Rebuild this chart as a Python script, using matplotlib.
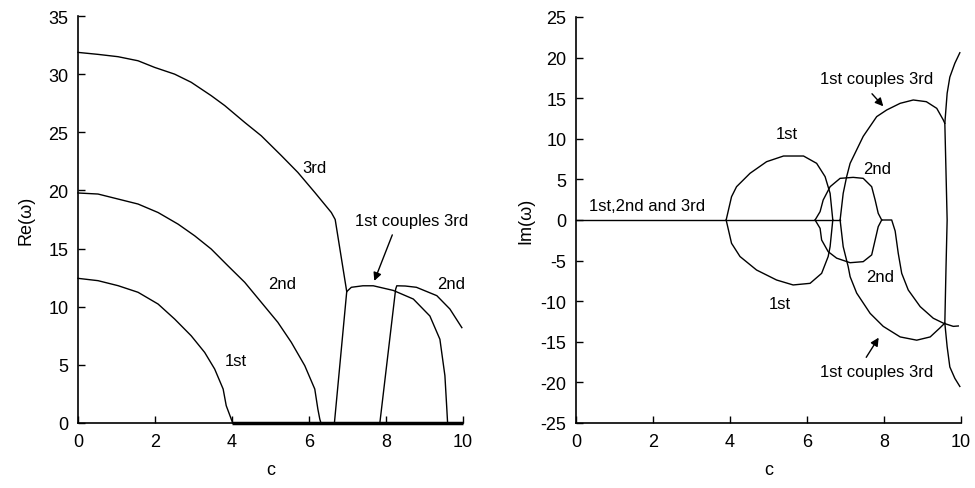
import matplotlib
matplotlib.use("Agg")
import matplotlib.pyplot as plt

FONT = ['Liberation Sans Narrow', 'Liberation Sans', 'DejaVu Sans']
plt.rcParams['font.family'] = FONT
plt.rcParams['axes.unicode_minus'] = False

# ---------------- Left panel: Re(omega) ----------------
re1_c = [0, 0.52, 1.04, 1.56, 2.08, 2.51, 2.94, 3.29, 3.55, 3.77, 3.85, 3.98, 4.02]
re1_v = [12.44, 12.24, 11.81, 11.24, 10.23, 8.94, 7.5, 6.07, 4.64, 2.92, 1.49, 0.34, 0]

re2_c = [0, 0.52, 1.04, 1.56, 2.08, 2.6, 3.03, 3.46, 3.9, 4.33, 4.76, 5.19, 5.54, 5.89, 6.15, 6.23, 6.28, 6.31]
re2_v = [19.78, 19.69, 19.26, 18.83, 18.1, 17.1, 16.1, 14.96, 13.5, 12.1, 10.38, 8.66, 6.94, 4.93, 2.92, 1.2, 0.34, 0]

re3_c = [0, 0.52, 1.04, 1.56, 1.99, 2.51, 2.94, 3.46, 3.81, 4.33, 4.76, 5.28, 5.71, 6.15, 6.58, 6.68, 6.98]
re3_v = [31.87, 31.7, 31.5, 31.15, 30.58, 30.0, 29.3, 28.15, 27.3, 25.85, 24.7, 23.0, 21.55, 19.83, 18.1, 17.5, 11.3]

re_coup_c = [6.66, 6.98, 7.1, 7.4, 7.67, 8.19, 8.71, 9.14, 9.4, 9.53, 9.58, 9.6]
re_coup_v = [0, 11.3, 11.67, 11.8, 11.8, 11.4, 10.66, 9.2, 7.2, 4.07, 1.2, 0]

re2b_c = [7.84, 8.25, 8.28, 8.5, 8.79, 9.32, 9.66, 9.97]
re2b_v = [0, 11.5, 11.8, 11.78, 11.67, 10.95, 9.8, 8.2]

re_zero_c = [4.0, 10.0]
re_zero_v = [0, 0]

# ---------------- Right panel: Im(omega) ----------------
im_zero_c = [0, 6.86]
im_zero_v = [0, 0]

im1u_c = [3.9, 4.04, 4.17, 4.52, 4.95, 5.39, 5.91, 6.25, 6.47, 6.6, 6.67]
im1u_v = [0, 2.87, 4.1, 5.75, 7.18, 7.88, 7.88, 6.98, 5.34, 3.28, 0]
im1l_c = [3.9, 4.04, 4.26, 4.69, 5.21, 5.64, 6.08, 6.38, 6.55, 6.6, 6.67]
im1l_v = [0, -2.87, -4.5, -6.16, -7.39, -8.0, -7.8, -6.57, -4.5, -3.28, 0]

im2u_c = [6.21, 6.34, 6.42, 6.6, 6.86, 7.2, 7.46, 7.68, 7.77, 7.85, 7.94]
im2u_v = [0, 1.03, 2.46, 4.1, 5.13, 5.25, 5.13, 4.1, 2.46, 0.82, 0]
im2l_c = [6.21, 6.34, 6.38, 6.55, 6.77, 7.12, 7.46, 7.68, 7.77, 7.85, 7.94]
im2l_v = [0, -1.03, -2.46, -3.9, -4.7, -5.26, -5.13, -4.3, -2.46, -0.82, 0]

im2b_c = [7.94, 8.2, 8.29, 8.37, 8.46, 8.63, 8.94, 9.28, 9.54, 9.8, 9.93]
im2b_v = [0, 0, -1.36, -4.1, -6.57, -8.62, -10.67, -12.1, -12.7, -13.1, -13.05]

imcu_c = [6.86, 6.94, 7.03, 7.12, 7.46, 7.81, 8.07, 8.42, 8.76, 9.1, 9.37, 9.54, 9.58]
imcu_v = [0, 3.28, 5.34, 6.98, 10.3, 12.73, 13.55, 14.37, 14.78, 14.57, 13.75, 12.32, 11.9]
imcl_c = [6.86, 6.94, 7.07, 7.12, 7.29, 7.64, 7.98, 8.42, 8.85, 9.2, 9.45, 9.58]
imcl_v = [0, -3.28, -5.75, -6.98, -9.0, -11.5, -13.1, -14.4, -14.8, -14.4, -13.3, -12.7]

imv_c = [9.97, 9.84, 9.71, 9.64, 9.58, 9.61, 9.64, 9.61, 9.58, 9.64, 9.71, 9.84, 9.97]
imv_v = [20.6, 19.3, 17.6, 15.6, 11.9, 6.0, 0, -6.0, -12.7, -15.6, -18.1, -19.5, -20.5]

FS = 13
FSA = 12
LW = 1.0

fig = plt.figure(figsize=(9.75, 4.89), dpi=100)
axL = fig.add_axes([78/975, 1-424/489, 385/975, 407/489])
axR = fig.add_axes([576/975, 1-424/489, 385/975, 406/489])

def style(ax):
    for s in ('top', 'right'):
        ax.spines[s].set_visible(False)
    for s in ('left', 'bottom'):
        ax.spines[s].set_linewidth(1.2)
        ax.spines[s].set_color('black')
    ax.tick_params(direction='in', length=5, width=1, labelsize=FS, colors='black', pad=7)
    ax.set_xlim(0, 10)
    ax.set_xticks([0, 2, 4, 6, 8, 10])

# Left
style(axL)
axL.set_ylim(0, 35)
axL.set_yticks(range(0, 36, 5))
for cc, vv in [(re1_c, re1_v), (re2_c, re2_v), (re3_c, re3_v),
               (re_coup_c, re_coup_v), (re2b_c, re2b_v)]:
    axL.plot(cc, vv, color='black', lw=LW, clip_on=False)
axL.plot(re_zero_c, re_zero_v, color='black', lw=2.5, clip_on=False, solid_capstyle='butt')
axL.set_xlabel('c', fontsize=FS, labelpad=8)
axL.set_ylabel('Re(ω)', fontsize=FS, labelpad=10)
axL.text(6.15, 22.0, '3rd', fontsize=FSA, ha='center', va='center')
axL.text(5.3, 12.0, '2nd', fontsize=FSA, ha='center', va='center')
axL.text(4.1, 5.35, '1st', fontsize=FSA, ha='center', va='center')
axL.text(9.7, 12.0, '2nd', fontsize=FSA, ha='center', va='center')
axL.text(8.67, 17.4, '1st couples 3rd', fontsize=FSA, ha='center', va='center')
axL.annotate('', xy=(7.67, 12.0), xytext=(8.19, 16.4),
             arrowprops=dict(arrowstyle='-|>', color='black', lw=1, mutation_scale=12))

# Right
style(axR)
axR.set_ylim(-25, 25)
axR.set_yticks(range(-25, 26, 5))
for cc, vv in [(im_zero_c, im_zero_v), (im1u_c, im1u_v), (im1l_c, im1l_v),
               (im2u_c, im2u_v), (im2l_c, im2l_v), (im2b_c, im2b_v),
               (imcu_c, imcu_v), (imcl_c, imcl_v), (imv_c, imv_v)]:
    axR.plot(cc, vv, color='black', lw=LW, clip_on=False)
axR.set_xlabel('c', fontsize=FS, labelpad=8)
axR.set_ylabel('Im(ω)', fontsize=FS, labelpad=4)
axR.text(1.85, 1.8, '1st,2nd and 3rd', fontsize=FSA, ha='center', va='center')
axR.text(5.47, 10.7, '1st', fontsize=FSA, ha='center', va='center')
axR.text(5.3, -10.3, '1st', fontsize=FSA, ha='center', va='center')
axR.text(7.81, 6.4, '2nd', fontsize=FSA, ha='center', va='center')
axR.text(7.9, -7.0, '2nd', fontsize=FSA, ha='center', va='center')
axR.text(7.81, 17.45, '1st couples 3rd', fontsize=FSA, ha='center', va='center')
axR.text(7.81, -18.7, '1st couples 3rd', fontsize=FSA, ha='center', va='center')
axR.annotate('', xy=(8.03, 13.75), xytext=(7.64, 15.8),
             arrowprops=dict(arrowstyle='-|>', color='black', lw=1, mutation_scale=12))
axR.annotate('', xy=(7.9, -14.2), xytext=(7.5, -17.2),
             arrowprops=dict(arrowstyle='-|>', color='black', lw=1, mutation_scale=12))

fig.savefig('out.png', dpi=100, facecolor='white')
